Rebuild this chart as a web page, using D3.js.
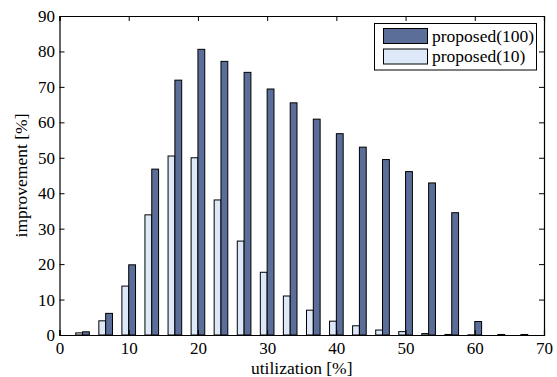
<!DOCTYPE html>
<html>
<head>
<meta charset="utf-8">
<script src="https://cdn.jsdelivr.net/npm/d3@7"></script>
<style>
  html, body { margin: 0; padding: 0; background: #fff; }
  svg text { font-family: "Liberation Serif", "Times New Roman", serif !important; fill: #000; }
</style>
</head>
<body>
<svg id="chart" width="557" height="377"></svg>
<script>
// Group centres (utilization %)
const utilization = [3.33, 6.67, 10, 13.33, 16.67, 20, 23.33, 26.67, 30, 33.33,
                     36.67, 40, 43.33, 46.67, 50, 53.33, 56.67, 60, 63.33, 66.67];
// proposed(10) — light bars (left of each pair)
const proposed10 = [0.6, 4.0, 13.8, 33.9, 50.5, 50.0, 38.1, 26.5, 17.7, 11.0,
                    7.0, 3.9, 2.6, 1.4, 0.95, 0.4, 0.15, 0.05, 0, 0];
// proposed(100) — dark bars (right of each pair)
const proposed100 = [0.9, 6.1, 19.8, 46.8, 71.9, 80.6, 77.2, 74.1, 69.4, 65.5,
                     60.9, 56.8, 53.0, 49.5, 46.1, 42.9, 34.5, 3.8, 0.15, 0.15];
const xTicks = [0, 10, 20, 30, 40, 50, 60, 70];
const yTicks = [0, 10, 20, 30, 40, 50, 60, 70, 80, 90];
const seriesNames = ["proposed(100)", "proposed(10)"];
const seriesColors = ["#5b6e9a", "#dde9f8"];

const svg = d3.select("#chart");
const m = { left: 59.5, right: 544, top: 16, bottom: 335 };
const x = d3.scaleLinear().domain([0, 70]).range([m.left, m.right]);
const y = d3.scaleLinear().domain([0, 90]).range([m.bottom, m.top]);

const step = utilization[1] - utilization[0];
const bw = x(step * 0.295) - x(0);

// bars
const g = svg.append("g");
g.selectAll("rect.light").data(utilization).join("rect")
  .attr("x", (d) => x(d) - bw)
  .attr("y", (d, i) => y(proposed10[i]))
  .attr("width", bw)
  .attr("height", (d, i) => y(0) - y(proposed10[i]))
  .attr("fill", seriesColors[1]).attr("stroke", "#000").attr("stroke-width", 1);
g.selectAll("rect.dark").data(utilization).join("rect")
  .attr("x", (d) => x(d))
  .attr("y", (d, i) => y(proposed100[i]))
  .attr("width", bw)
  .attr("height", (d, i) => y(0) - y(proposed100[i]))
  .attr("fill", seriesColors[0]).attr("stroke", "#000").attr("stroke-width", 1);

// axes (inward ticks on all sides)
const fs = "17px";
const bottomAxis = d3.axisBottom(x).tickValues(xTicks).tickSize(-5).tickPadding(7).tickFormat(d3.format("d"));
const leftAxis = d3.axisLeft(y).tickValues(yTicks).tickSize(-5).tickPadding(4.5).tickFormat(d3.format("d"));
const topAxis = d3.axisTop(x).tickValues(xTicks).tickSize(-5).tickFormat("");
const rightAxis = d3.axisRight(y).tickValues(yTicks).tickSize(-5).tickFormat("");

function style(sel) {
  sel.attr("font-family", "Liberation Serif, serif").attr("font-size", fs);
  sel.select(".domain").attr("stroke", "#000").attr("stroke-width", 1.2);
  sel.selectAll(".tick line").attr("stroke", "#000").attr("stroke-width", 1);
  sel.selectAll("text").style("font-size", fs).style("font-family", "'Liberation Serif', serif").attr("fill", "#000");
}
svg.append("g").attr("transform", `translate(0,${m.bottom})`).call(bottomAxis).call(style);
svg.append("g").attr("transform", `translate(${m.left},0)`).call(leftAxis).call(style);
svg.append("g").attr("transform", `translate(0,${m.top})`).call(topAxis).call(style);
svg.append("g").attr("transform", `translate(${m.right},0)`).call(rightAxis).call(style);

// axis labels
svg.append("text").attr("x", (m.left + m.right) / 2).attr("y", 374)
  .attr("text-anchor", "middle").style("font-size", "17.5px").text("utilization [%]");
svg.append("text").attr("transform", `translate(27,${(m.top + m.bottom) / 2}) rotate(-90)`)
  .attr("text-anchor", "middle").style("font-size", "17.5px").text("improvement [%]");

// legend
const lg = svg.append("g");
lg.append("rect").attr("x", 374.5).attr("y", 23.5).attr("width", 162).attr("height", 46.5)
  .attr("fill", "#fff").attr("stroke", "#000").attr("stroke-width", 1);
seriesNames.forEach((name, i) => {
  lg.append("rect").attr("x", 383.5).attr("y", 28.5 + i * 20.5).attr("width", 44).attr("height", 15)
    .attr("fill", seriesColors[i]).attr("stroke", "#000").attr("stroke-width", 1);
  lg.append("text").attr("x", 432).attr("y", 41.5 + i * 20.3)
    .style("font-size", "17.5px").text(name);
});
</script>
</body>
</html>
